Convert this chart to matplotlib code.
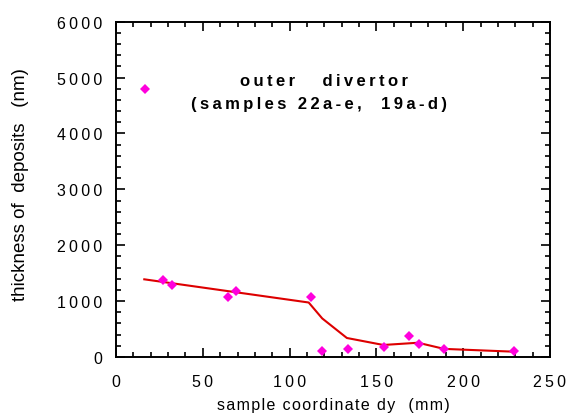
import numpy as np
import matplotlib.pyplot as plt
from matplotlib.ticker import MultipleLocator, FuncFormatter

plt.rcParams['font.family'] = ['Liberation Sans', 'DejaVu Sans']

# measured samples
pos_mm = [16.5, 27.3, 32.5, 64.3, 69.3, 112.5, 118.8, 133.5, 154.3, 168.6, 174.6, 189.0, 229.4]
thick_nm = [4790, 1380, 1290, 1080, 1185, 1080, 100, 137, 180, 380, 227, 137, 100]

# fitted curve
fit_x = [16.3, 111.0, 118.8, 133.0, 154.0, 174.0, 189.0, 229.0]
fit_y = [1390, 975, 690, 340, 215, 255, 145, 95]

title1 = 'outer   divertor'
title2 = '(samples 22a-e,  19a-d)'
xlab = 'sample coordinate dy  (mm)'
ylab = 'thickness of  deposits   (nm)'


def spaced(s, sep='\u2009'):
    # the original plot uses wide letter spacing
    return sep.join(s)


fig = plt.figure(figsize=(5.68, 4.14), dpi=100)
ax = fig.add_axes([0.2042, 0.1353, 0.7641, 0.8098])

ax.plot(fit_x, fit_y, color='#dd0000', lw=1.5, zorder=2)
ax.plot(pos_mm, thick_nm, 'D', color='#ff00dd', ms=5, mew=0, zorder=3)

ax.set_xlim(0, 250)
ax.set_ylim(0, 6000)
ax.xaxis.set_major_locator(MultipleLocator(50))
ax.xaxis.set_minor_locator(MultipleLocator(10))
ax.yaxis.set_major_locator(MultipleLocator(1000))
ax.yaxis.set_minor_locator(MultipleLocator(200))
fmt = FuncFormatter(lambda v, p: spaced('%d' % v))
ax.xaxis.set_major_formatter(fmt)
ax.yaxis.set_major_formatter(fmt)
ax.tick_params(which='both', direction='in', top=True, right=True, width=1.2)
ax.tick_params(which='major', length=6.5, labelsize=11.5)
ax.tick_params(axis='x', which='major', pad=12)
ax.tick_params(axis='y', which='major', pad=10)
ax.tick_params(which='minor', length=3.6)
for s in ax.spines.values():
    s.set_linewidth(1.4)

ax.set_xlabel(spaced(xlab, '\u200a'), fontsize=11.5, labelpad=6)
ax.set_ylabel(ylab, fontsize=13.5)
ax.yaxis.set_label_coords(-0.20, 0.516)

ax.text(0.48, 0.825, spaced(title1), transform=ax.transAxes, ha='center', va='center',
        fontsize=12, fontweight='bold')
ax.text(0.467, 0.757, spaced(title2), transform=ax.transAxes, ha='center', va='center',
        fontsize=12, fontweight='bold')

fig.savefig('out.png', dpi=100)
